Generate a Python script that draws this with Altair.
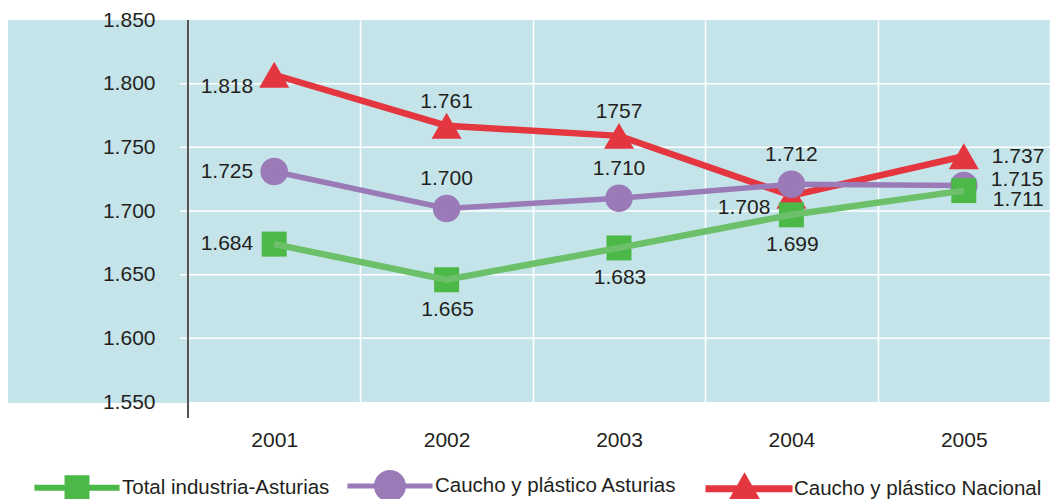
import altair as alt
import pandas as pd

# ---------------- data ----------------
years = ["2001", "2002", "2003", "2004", "2005"]

series_names = ["Total industria-Asturias", "Caucho y plástico Asturias", "Caucho y plástico Nacional"]

total_asturias = [1674, 1646, 1671, 1697, 1716]
caucho_asturias = [1731, 1702, 1710, 1721, 1720]
caucho_nacional = [1807, 1767, 1759, 1712, 1743]

total_labels = ["1.684", "1.665", "1.683", "1.699", "1.711"]
caucho_ast_labels = ["1.725", "1.700", "1.710", "1.712", "1.715"]
caucho_nac_labels = ["1.818", "1.761", "1757", "1.708", "1.737"]

total_place = ["left", "below", "below", "below", "right_down"]
caucho_ast_place = ["left", "above", "above", "above", "right_up"]
caucho_nac_place = ["lowleft", "above_close", "above_close", "lowleft", "right"]

y_ticks = [1550, 1600, 1650, 1700, 1750, 1800, 1850]

# ---------------- styles ----------------
FONT = "Arial, Liberation Sans, Helvetica, sans-serif"
TXT = "#231f20"
BG = "#c5e4e9"
GREEN = "#4cb848"
GREEN_LINE = "#6cc06a"
PURPLE = "#9a7bb8"
RED = "#e3363f"

W, H = 862, 382

rows = []
for name, vals, labs, plc in [
    (series_names[0], total_asturias, total_labels, total_place),
    (series_names[1], caucho_asturias, caucho_ast_labels, caucho_ast_place),
    (series_names[2], caucho_nacional, caucho_nac_labels, caucho_nac_place),
]:
    for yr, v, lb, p in zip(years, vals, labs, plc):
        rows.append({"year": yr, "series": name, "value": v, "label": lb, "place": p})
df = pd.DataFrame(rows)

ygrid_df = pd.DataFrame({"value": y_ticks[1:-1]})

base = alt.Chart(df)

x_scale = alt.Scale(type="band", domain=years, paddingInner=0, paddingOuter=0)
y_scale = alt.Scale(domain=[1550, 1850], nice=False, zero=False)

x_enc = alt.X(
    "year:N",
    scale=x_scale,
    axis=alt.Axis(
        title=None, labelAngle=0, domain=False, ticks=False, tickBand="extent",
        grid=True, gridColor="white", gridWidth=1.5,
        labelFont=FONT, labelFontSize=21, labelColor=TXT, labelPadding=27,
    ),
)
y_enc = alt.Y(
    "value:Q",
    scale=y_scale,
    axis=alt.Axis(
        title=None, values=y_ticks, domain=False, ticks=False, grid=False, zindex=1,
        labelFont=FONT, labelFontSize=21, labelColor=TXT, labelPadding=33,
        labelExpr="replace(format(datum.value, ','), ',', '.')",
    ),
)

# light-blue strip that continues the plot background to the left of the y axis
left_strip = alt.Chart(df).mark_rect(color=BG).encode(
    x=alt.value(-182), x2=alt.value(0), y=alt.value(0), y2=alt.value(H + 1)
)

ygrid = alt.Chart(ygrid_df).mark_rule(color="white", strokeWidth=1.5).encode(
    y=alt.Y("value:Q", scale=y_scale), x=alt.value(-8), x2=alt.value(W)
)

yrule = alt.Chart(df).mark_rule(color="#555555", strokeWidth=1.5).encode(
    x=alt.value(0), y=alt.value(0), y2=alt.value(H + 16)
)


def series_layers(name, shape, size, color, line_color, width):
    d = base.transform_filter(alt.datum.series == name)
    pts = d.mark_point(shape=shape, size=size, filled=True, opacity=1, color=color, strokeWidth=0).encode(x=x_enc, y=y_enc)
    ln = d.mark_line(color=line_color, strokeWidth=width).encode(x=x_enc, y=y_enc)
    return [pts, ln]


layers = [left_strip, ygrid]
layers += series_layers(series_names[2], "triangle-up", 900, RED, RED, 6.5)
layers += series_layers(series_names[1], "circle", 760, PURPLE, PURPLE, 5.5)
layers += series_layers(series_names[0], "square", 625, GREEN, GREEN_LINE, 6.5)
layers.append(yrule)

offsets = {
    "left": (-21, 0, "right"),
    "lowleft": (-21, 12, "right"),
    "above": (0, -29, "center"),
    "above_close": (0, -24, "center"),
    "below": (1, 30, "center"),
    "right": (28, 1, "left"),
    "right_up": (27, -6, "left"),
    "right_down": (29, 9, "left"),
}
for p, (dx, dy, al) in offsets.items():
    layers.append(
        base.transform_filter(alt.datum.place == p)
        .mark_text(font=FONT, fontSize=21, color=TXT, dx=dx, dy=dy, align=al, baseline="middle")
        .encode(x=x_enc, y=y_enc, text="label:N")
    )

# legend symbols: line with marker (custom paths)
leg_sq = "M-2.66,-0.19L2.66,-0.19L2.66,0.19L-2.66,0.19Z M-0.78,-0.78L0.78,-0.78L0.78,0.78L-0.78,0.78Z"
leg_ci = "M-2.66,-0.16L2.66,-0.16L2.66,0.16L-2.66,0.16Z M-1,0A1,1 0 1,1 1,0A1,1 0 1,1 -1,0Z"
leg_tr = "M-2.72,-0.22L2.72,-0.22L2.72,0.22L-2.72,0.22Z M-0.28,-1.03L0.69,0.66L-1.25,0.66Z"

# trailing non-breaking spaces (kept by a zero-width space) widen one legend entry
PAD = "\u00a0" * 2 + "\u200b"
legend_props = dict(
    orient="none", legendX=-127, legendY=450, direction="horizontal", title=None,
    symbolSize=1024, symbolStrokeWidth=0, symbolOpacity=1,
    labelFont=FONT, labelFontSize=20.5, labelColor=TXT, labelOffset=29,
    columnPadding=17, padding=0, labelLimit=0,
    labelExpr="datum.label == 'Caucho y plástico Asturias' ? datum.label + '" + PAD + "' : datum.label",
)

legend_layer = base.transform_filter("false").mark_point(filled=True, opacity=1).encode(
    x=x_enc, y=y_enc,
    color=alt.Color(
        "series:N",
        scale=alt.Scale(domain=series_names, range=[GREEN, PURPLE, RED]),
        legend=alt.Legend(**legend_props),
    ),
    shape=alt.Shape(
        "series:N",
        scale=alt.Scale(domain=series_names, range=[leg_sq, leg_ci, leg_tr]),
        legend=alt.Legend(**legend_props),
    ),
)
layers.append(legend_layer)

chart = (
    alt.layer(*layers)
    .properties(
        width=W, height=H,
        autosize=alt.AutoSizeParams(type="none"),
        padding={"left": 180, "top": 12, "right": 0, "bottom": 97},
        background="white",
    )
    .configure_view(stroke=None, fill=BG)
)

chart.save("out.html", embed_options={"renderer": "svg", "actions": False})
